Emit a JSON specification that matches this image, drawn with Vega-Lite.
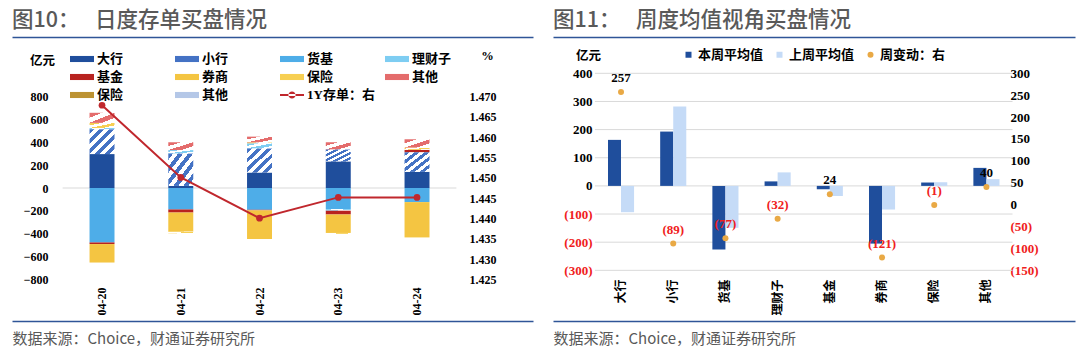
{
  "$schema": "https://vega.github.io/schema/vega-lite/v6.json",
  "background": "white",
  "padding": {"left": 12, "top": 9, "right": 4, "bottom": 0},
  "spacing": 20,
  "resolve": {"scale": {"color": "independent"}, "legend": {"color": "independent"}},
  "config": {
    "view": {"stroke": null},
    "axis": {"labelFont": "Liberation Serif", "labelFontWeight": "bold", "labelColor": "#000000", "labelFontSize": 12, "titleFont": "Noto Sans CJK SC", "titleFontWeight": "bold", "titleColor": "#000000", "titleFontSize": 12.5}
  },
  "hconcat": [
    {
      "width": 521,
      "height": 284,
      "title": {"text": "图10：　 日度存单买盘情况", "anchor": "start", "font": "Noto Sans CJK SC", "fontSize": 21.5, "fontWeight": 500, "color": "#595959", "offset": 6},
      "resolve": {"scale": {"y": "independent"}, "axis": {"x": "independent", "y": "independent"}},
      "layer": [
        {
          "data": {"values": [{"v": 0}]},
          "mark": {"type": "rule", "color": "#D9D9D9", "strokeWidth": 1},
          "encoding": {
            "x": {"datum": "04-20", "type": "nominal", "bandPosition": 0,
              "scale": {"domain": ["04-20", "04-21", "04-22", "04-23", "04-24"], "paddingInner": 0, "paddingOuter": 0.808, "align": 0.398},
              "axis": {"orient": "top", "labels": false, "ticks": false, "grid": false, "title": null, "domainColor": "#2F5597", "domainWidth": 1.5}},
            "x2": {"datum": "04-24", "bandPosition": 1},
            "y": {"field": "v", "type": "quantitative", "scale": {"domain": [-1160, 1317], "nice": false, "zero": false}, "axis": null}
          }
        },
        {
          "data": {"values": [
            {"date": "04-20", "type": "大行", "ord": 1, "value": 296},
            {"date": "04-20", "type": "小行", "ord": 2, "value": 217},
            {"date": "04-20", "type": "理财子", "ord": 4, "value": 10},
            {"date": "04-20", "type": "保险", "ord": 7, "value": 45},
            {"date": "04-20", "type": "其他", "ord": 8, "value": 88},
            {"date": "04-20", "type": "货基", "ord": 3, "value": -475},
            {"date": "04-20", "type": "基金", "ord": 5, "value": -14},
            {"date": "04-20", "type": "券商", "ord": 6, "value": -161},
            {"date": "04-21", "type": "大行", "ord": 1, "value": 18},
            {"date": "04-21", "type": "小行", "ord": 2, "value": 284},
            {"date": "04-21", "type": "理财子", "ord": 4, "value": 29},
            {"date": "04-21", "type": "其他", "ord": 8, "value": 68},
            {"date": "04-21", "type": "货基", "ord": 3, "value": -187},
            {"date": "04-21", "type": "基金", "ord": 5, "value": -27},
            {"date": "04-21", "type": "券商", "ord": 6, "value": -167},
            {"date": "04-21", "type": "保险", "ord": 7, "value": -14},
            {"date": "04-22", "type": "大行", "ord": 1, "value": 135},
            {"date": "04-22", "type": "小行", "ord": 2, "value": 211},
            {"date": "04-22", "type": "理财子", "ord": 4, "value": 44},
            {"date": "04-22", "type": "保险", "ord": 7, "value": 8},
            {"date": "04-22", "type": "其他", "ord": 8, "value": 50},
            {"date": "04-22", "type": "货基", "ord": 3, "value": -190},
            {"date": "04-22", "type": "基金", "ord": 5, "value": -5},
            {"date": "04-22", "type": "券商", "ord": 6, "value": -250},
            {"date": "04-23", "type": "大行", "ord": 1, "value": 232},
            {"date": "04-23", "type": "小行", "ord": 2, "value": 105},
            {"date": "04-23", "type": "其他", "ord": 8, "value": 62},
            {"date": "04-23", "type": "货基", "ord": 3, "value": -184},
            {"date": "04-23", "type": "理财子", "ord": 4, "value": -12},
            {"date": "04-23", "type": "基金", "ord": 5, "value": -35},
            {"date": "04-23", "type": "券商", "ord": 6, "value": -161},
            {"date": "04-23", "type": "保险", "ord": 7, "value": -8},
            {"date": "04-24", "type": "大行", "ord": 1, "value": 141},
            {"date": "04-24", "type": "小行", "ord": 2, "value": 170},
            {"date": "04-24", "type": "基金", "ord": 5, "value": 22},
            {"date": "04-24", "type": "保险", "ord": 7, "value": 20},
            {"date": "04-24", "type": "其他", "ord": 8, "value": 72},
            {"date": "04-24", "type": "货基", "ord": 3, "value": -123},
            {"date": "04-24", "type": "券商", "ord": 6, "value": -308}
          ]},
          "transform": [{"stack": "value", "groupby": ["date"], "sort": [{"field": "ord", "order": "ascending"}], "as": ["v0", "v1"], "offset": "zero"}],
          "encoding": {
            "x": {"field": "date", "type": "nominal",
              "scale": {"domain": ["04-20", "04-21", "04-22", "04-23", "04-24"], "paddingInner": 0, "paddingOuter": 0.808, "align": 0.398},
              "axis": {"orient": "bottom", "labelAngle": -90, "labelPadding": -34, "ticks": false, "tickSize": 0, "grid": false, "domainColor": "#2F5597", "domainWidth": 1.5, "labelFontSize": 12,
                "title": "数据来源：Choice，财通证券研究所", "titleX": 0, "titleY": 17, "titleAlign": "left", "titleAnchor": "start", "titleBaseline": "middle", "titleFont": "Noto Sans CJK SC", "titleFontSize": 15, "titleFontWeight": "normal", "titleColor": "#595959"}},
            "y": {"field": "v1", "type": "quantitative",
              "scale": {"domain": [-1160, 1317], "nice": false, "zero": false},
              "axis": {"orient": "left", "offset": -40, "values": [-800, -600, -400, -200, 0, 200, 400, 600, 800], "domain": false, "ticks": false, "grid": false, "labelPadding": 4,
                "title": "亿元", "titleAngle": 0, "titleX": -10, "titleY": 23, "titleAlign": "center", "titleBaseline": "middle"}},
            "y2": {"field": "v0"}
          },
          "layer": [
            {
              "transform": [{"filter": {"field": "type", "oneOf": ["大行", "货基", "基金", "券商"]}}],
              "mark": {"type": "bar", "width": {"band": 0.317}},
              "encoding": {
                "color": {"field": "type", "type": "nominal",
                  "scale": {
                    "domain": ["大行", "基金", "保险_s", "小行", "券商", "其他_s", "货基", "保险", "1Y存单：右", "理财子", "其他"],
                    "range": ["#1F4E9C", "#B8231F", "#BC9232", "#4472C4", "#F4C542", "#B4C7E7", "#4EADE8", "#F7CF52", "#C0272D", "#7ECDF2", "#E46C6C"]},
                  "legend": {"orient": "none", "legendX": 58, "legendY": 14, "columns": 4, "gridAlign": "all", "columnPadding": 10, "rowPadding": 3, "title": null,
                    "symbolSize": 256, "symbolStrokeWidth": 0, "labelOffset": 11, "labelFont": "Liberation Serif, Noto Sans CJK SC", "labelFontSize": 13, "labelFontWeight": "bold", "labelColor": "#000000",
                    "labelExpr": "replace(datum.label, '_s', '')",
                    "encode": {"symbols": {"update": {
                      "shape": {"signal": "datum.value === '1Y存单：右' ? 'M-1,-0.12h3v0.24h-3z M0.05,0 a0.45,0.45 0 1,0 0.9,0 a0.45,0.45 0 1,0 -0.9,0' : 'M-1,-0.38h3v0.76h-3z'"},
                      "fill": [
                        {"test": "datum.value === '大行'", "value": "#1F4E9C"},
                        {"test": "datum.value === '小行'", "value": {"gradient": "linear", "x1": 0, "y1": 0, "x2": 1, "y2": 1, "stops": [
                          {"offset": 0, "color": "#4472C4"}, {"offset": 0.125, "color": "#4472C4"}, {"offset": 0.125, "color": "#FFFFFF"}, {"offset": 0.25, "color": "#FFFFFF"},
                          {"offset": 0.25, "color": "#4472C4"}, {"offset": 0.375, "color": "#4472C4"}, {"offset": 0.375, "color": "#FFFFFF"}, {"offset": 0.5, "color": "#FFFFFF"},
                          {"offset": 0.5, "color": "#4472C4"}, {"offset": 0.625, "color": "#4472C4"}, {"offset": 0.625, "color": "#FFFFFF"}, {"offset": 0.75, "color": "#FFFFFF"},
                          {"offset": 0.75, "color": "#4472C4"}, {"offset": 0.875, "color": "#4472C4"}, {"offset": 0.875, "color": "#FFFFFF"}, {"offset": 1, "color": "#FFFFFF"}]}},
                        {"test": "datum.value === '货基'", "value": "#4EADE8"},
                        {"test": "datum.value === '理财子'", "value": {"gradient": "linear", "x1": 0, "y1": 0, "x2": 1, "y2": 1, "stops": [
                          {"offset": 0, "color": "#7ECDF2"}, {"offset": 0.125, "color": "#7ECDF2"}, {"offset": 0.125, "color": "#FFFFFF"}, {"offset": 0.25, "color": "#FFFFFF"},
                          {"offset": 0.25, "color": "#7ECDF2"}, {"offset": 0.375, "color": "#7ECDF2"}, {"offset": 0.375, "color": "#FFFFFF"}, {"offset": 0.5, "color": "#FFFFFF"},
                          {"offset": 0.5, "color": "#7ECDF2"}, {"offset": 0.625, "color": "#7ECDF2"}, {"offset": 0.625, "color": "#FFFFFF"}, {"offset": 0.75, "color": "#FFFFFF"},
                          {"offset": 0.75, "color": "#7ECDF2"}, {"offset": 0.875, "color": "#7ECDF2"}, {"offset": 0.875, "color": "#FFFFFF"}, {"offset": 1, "color": "#FFFFFF"}]}},
                        {"test": "datum.value === '基金'", "value": "#B8231F"},
                        {"test": "datum.value === '券商'", "value": "#F4C542"},
                        {"test": "datum.value === '保险'", "value": {"gradient": "linear", "x1": 0, "y1": 0, "x2": 1, "y2": 1, "stops": [
                          {"offset": 0, "color": "#F7CF52"}, {"offset": 0.125, "color": "#F7CF52"}, {"offset": 0.125, "color": "#FFFFFF"}, {"offset": 0.25, "color": "#FFFFFF"},
                          {"offset": 0.25, "color": "#F7CF52"}, {"offset": 0.375, "color": "#F7CF52"}, {"offset": 0.375, "color": "#FFFFFF"}, {"offset": 0.5, "color": "#FFFFFF"},
                          {"offset": 0.5, "color": "#F7CF52"}, {"offset": 0.625, "color": "#F7CF52"}, {"offset": 0.625, "color": "#FFFFFF"}, {"offset": 0.75, "color": "#FFFFFF"},
                          {"offset": 0.75, "color": "#F7CF52"}, {"offset": 0.875, "color": "#F7CF52"}, {"offset": 0.875, "color": "#FFFFFF"}, {"offset": 1, "color": "#FFFFFF"}]}},
                        {"test": "datum.value === '其他'", "value": {"gradient": "linear", "x1": 0, "y1": 0, "x2": 1, "y2": 1, "stops": [
                          {"offset": 0, "color": "#E46C6C"}, {"offset": 0.125, "color": "#E46C6C"}, {"offset": 0.125, "color": "#FFFFFF"}, {"offset": 0.25, "color": "#FFFFFF"},
                          {"offset": 0.25, "color": "#E46C6C"}, {"offset": 0.375, "color": "#E46C6C"}, {"offset": 0.375, "color": "#FFFFFF"}, {"offset": 0.5, "color": "#FFFFFF"},
                          {"offset": 0.5, "color": "#E46C6C"}, {"offset": 0.625, "color": "#E46C6C"}, {"offset": 0.625, "color": "#FFFFFF"}, {"offset": 0.75, "color": "#FFFFFF"},
                          {"offset": 0.75, "color": "#E46C6C"}, {"offset": 0.875, "color": "#E46C6C"}, {"offset": 0.875, "color": "#FFFFFF"}, {"offset": 1, "color": "#FFFFFF"}]}},
                        {"test": "datum.value === '保险_s'", "value": "#BC9232"},
                        {"test": "datum.value === '其他_s'", "value": "#B4C7E7"},
                        {"value": "#C0272D"}
                      ]
                    }}}}
                }
              }
            },
            {
              "transform": [{"filter": "datum.type === '小行'"}],
              "mark": {"type": "bar", "width": {"band": 0.317}, "fill": {"gradient": "linear", "x1": 0, "y1": 0, "x2": 1, "y2": 1, "stops": [
                {"offset": 0, "color": "#4472C4"}, {"offset": 0.1, "color": "#4472C4"}, {"offset": 0.1, "color": "#FFFFFF"}, {"offset": 0.2, "color": "#FFFFFF"},
                {"offset": 0.2, "color": "#4472C4"}, {"offset": 0.3, "color": "#4472C4"}, {"offset": 0.3, "color": "#FFFFFF"}, {"offset": 0.4, "color": "#FFFFFF"},
                {"offset": 0.4, "color": "#4472C4"}, {"offset": 0.5, "color": "#4472C4"}, {"offset": 0.5, "color": "#FFFFFF"}, {"offset": 0.6, "color": "#FFFFFF"},
                {"offset": 0.6, "color": "#4472C4"}, {"offset": 0.7, "color": "#4472C4"}, {"offset": 0.7, "color": "#FFFFFF"}, {"offset": 0.8, "color": "#FFFFFF"},
                {"offset": 0.8, "color": "#4472C4"}, {"offset": 0.9, "color": "#4472C4"}, {"offset": 0.9, "color": "#FFFFFF"}, {"offset": 1, "color": "#FFFFFF"}]}}
            },
            {
              "transform": [{"filter": "datum.type === '理财子'"}],
              "mark": {"type": "bar", "width": {"band": 0.317}, "fill": {"gradient": "linear", "x1": 0, "y1": 0, "x2": 1, "y2": 1, "stops": [
                {"offset": 0, "color": "#7ECDF2"}, {"offset": 0.25, "color": "#7ECDF2"}, {"offset": 0.25, "color": "#FFFFFF"}, {"offset": 0.5, "color": "#FFFFFF"},
                {"offset": 0.5, "color": "#7ECDF2"}, {"offset": 0.75, "color": "#7ECDF2"}, {"offset": 0.75, "color": "#FFFFFF"}, {"offset": 1, "color": "#FFFFFF"}]}}
            },
            {
              "transform": [{"filter": "datum.type === '保险'"}],
              "mark": {"type": "bar", "width": {"band": 0.317}, "fill": {"gradient": "linear", "x1": 0, "y1": 0, "x2": 1, "y2": 1, "stops": [
                {"offset": 0, "color": "#F7CF52"}, {"offset": 0.25, "color": "#F7CF52"}, {"offset": 0.25, "color": "#FFFFFF"}, {"offset": 0.5, "color": "#FFFFFF"},
                {"offset": 0.5, "color": "#F7CF52"}, {"offset": 0.75, "color": "#F7CF52"}, {"offset": 0.75, "color": "#FFFFFF"}, {"offset": 1, "color": "#FFFFFF"}]}}
            },
            {
              "transform": [{"filter": "datum.type === '其他'"}],
              "mark": {"type": "bar", "width": {"band": 0.317}, "fill": {"gradient": "linear", "x1": 0, "y1": 0, "x2": 1, "y2": 1, "stops": [
                {"offset": 0, "color": "#E46C6C"}, {"offset": 0.25, "color": "#E46C6C"}, {"offset": 0.25, "color": "#FFFFFF"}, {"offset": 0.5, "color": "#FFFFFF"},
                {"offset": 0.5, "color": "#E46C6C"}, {"offset": 0.75, "color": "#E46C6C"}, {"offset": 0.75, "color": "#FFFFFF"}, {"offset": 1, "color": "#FFFFFF"}]}}
            }
          ]
        },
        {
          "data": {"values": [
            {"date": "04-20", "rate": 1.4678},
            {"date": "04-21", "rate": 1.4501},
            {"date": "04-22", "rate": 1.4401},
            {"date": "04-23", "rate": 1.4452},
            {"date": "04-24", "rate": 1.4452}
          ]},
          "mark": {"type": "line", "color": "#C0272D", "strokeWidth": 2, "point": {"filled": true, "size": 45, "color": "#C0272D"}},
          "encoding": {
            "x": {"field": "date", "type": "nominal",
              "scale": {"domain": ["04-20", "04-21", "04-22", "04-23", "04-24"], "paddingInner": 0, "paddingOuter": 0.808, "align": 0.398},
              "axis": null},
            "y": {"field": "rate", "type": "quantitative",
              "scale": {"domain": [1.41487, 1.48455], "nice": false, "zero": false},
              "axis": {"orient": "right", "offset": -68, "values": [1.425, 1.43, 1.435, 1.44, 1.445, 1.45, 1.455, 1.46, 1.465, 1.47], "format": ".3f", "domain": false, "ticks": false, "grid": false, "labelPadding": 4,
                "title": "%", "titleAngle": 0, "titleX": 22, "titleY": 18, "titleAlign": "center", "titleBaseline": "middle", "titleFont": "Liberation Serif"}}
          }
        }
      ]
    },
    {
      "width": 522,
      "height": 284,
      "title": {"text": "图11：　 周度均值视角买盘情况", "anchor": "start", "font": "Noto Sans CJK SC", "fontSize": 21.5, "fontWeight": 500, "color": "#595959", "offset": 6},
      "resolve": {"scale": {"y": "independent"}, "axis": {"x": "independent", "y": "independent"}},
      "layer": [
        {
          "data": {"values": [{"g": 400}, {"g": 300}, {"g": 200}, {"g": 100}, {"g": 0}, {"g": -100}, {"g": -200}, {"g": -300}]},
          "mark": {"type": "rule", "color": "#D9D9D9", "strokeWidth": 1},
          "encoding": {
            "x": {"datum": "大行", "type": "nominal", "bandPosition": 0,
              "scale": {"domain": ["大行", "小行", "货基", "理财子", "基金", "券商", "保险", "其他"], "paddingInner": 0, "paddingOuter": 1.22, "align": 0.4016},
              "axis": {"orient": "top", "labels": false, "ticks": false, "grid": false, "title": null, "domainColor": "#2F5597", "domainWidth": 1.5}},
            "x2": {"datum": "其他", "bandPosition": 1},
            "y": {"field": "g", "type": "quantitative", "scale": {"domain": [-480, 529], "nice": false, "zero": false}, "axis": null}
          }
        },
        {
          "data": {"values": [
            {"cat": "大行", "series": "本周平均值", "value": 163.5},
            {"cat": "大行", "series": "上周平均值", "value": -93.5},
            {"cat": "小行", "series": "本周平均值", "value": 193},
            {"cat": "小行", "series": "上周平均值", "value": 282},
            {"cat": "货基", "series": "本周平均值", "value": -226},
            {"cat": "货基", "series": "上周平均值", "value": -149},
            {"cat": "理财子", "series": "本周平均值", "value": 16},
            {"cat": "理财子", "series": "上周平均值", "value": 48},
            {"cat": "基金", "series": "本周平均值", "value": -12},
            {"cat": "基金", "series": "上周平均值", "value": -36},
            {"cat": "券商", "series": "本周平均值", "value": -205},
            {"cat": "券商", "series": "上周平均值", "value": -84},
            {"cat": "保险", "series": "本周平均值", "value": 12},
            {"cat": "保险", "series": "上周平均值", "value": 13},
            {"cat": "其他", "series": "本周平均值", "value": 64},
            {"cat": "其他", "series": "上周平均值", "value": 24}
          ]},
          "mark": {"type": "bar"},
          "encoding": {
            "x": {"field": "cat", "type": "nominal",
              "scale": {"domain": ["大行", "小行", "货基", "理财子", "基金", "券商", "保险", "其他"], "paddingInner": 0, "paddingOuter": 1.22, "align": 0.4016},
              "axis": {"orient": "bottom", "labelAngle": -90, "labelPadding": -42, "ticks": false, "tickSize": 0, "grid": false, "domainColor": "#2F5597", "domainWidth": 1.5,
                "labelFont": "Noto Sans CJK SC", "labelFontSize": 12, "labelFontWeight": "bold",
                "title": "数据来源：Choice，财通证券研究所", "titleX": 0, "titleY": 17, "titleAlign": "left", "titleAnchor": "start", "titleBaseline": "middle", "titleFont": "Noto Sans CJK SC", "titleFontSize": 15, "titleFontWeight": "normal", "titleColor": "#595959"}},
            "xOffset": {"field": "series", "type": "nominal", "scale": {"domain": ["本周平均值", "上周平均值"], "paddingInner": 0, "paddingOuter": 1.083}},
            "y": {"field": "value", "type": "quantitative", "stack": null,
              "scale": {"domain": [-480, 529], "nice": false, "zero": false},
              "axis": {"orient": "left", "offset": -43, "values": [-300, -200, -100, 0, 100, 200, 300, 400], "domain": false, "ticks": false, "grid": false, "labelPadding": 4, "labelFontSize": 13,
                "labelExpr": "datum.value < 0 ? '(' + (-datum.value) + ')' : '' + datum.value",
                "labelColor": {"condition": {"test": "datum.value < 0", "value": "#F02020"}, "value": "#000000"},
                "title": "亿元", "titleAngle": 0, "titleX": -8, "titleY": 18, "titleAlign": "center", "titleBaseline": "middle"}},
            "color": {"field": "series", "type": "nominal",
              "scale": {"domain": ["本周平均值", "上周平均值", "周变动：右"], "range": ["#1F4E9C", "#C5DBF7", "#E9A945"]},
              "legend": {"orient": "none", "direction": "horizontal", "legendX": 129, "legendY": 11, "title": null, "columnPadding": 9, "gridAlign": "all",
                "symbolSize": 36, "symbolStrokeWidth": 0, "labelOffset": 3, "labelFont": "Noto Sans CJK SC", "labelFontSize": 13, "labelFontWeight": "bold", "labelColor": "#000000",
                "encode": {"symbols": {"update": {"shape": {"signal": "datum.value === '周变动：右' ? 'circle' : 'square'"}}}}}}
          }
        },
        {
          "data": {"values": [
            {"cat": "大行", "change": 257, "label": "257"},
            {"cat": "小行", "change": -89, "label": "(89)"},
            {"cat": "货基", "change": -77, "label": "(77)"},
            {"cat": "理财子", "change": -32, "label": "(32)"},
            {"cat": "基金", "change": 24, "label": "24"},
            {"cat": "券商", "change": -121, "label": "(121)"},
            {"cat": "保险", "change": -1, "label": "(1)"},
            {"cat": "其他", "change": 40, "label": "40"}
          ]},
          "encoding": {
            "x": {"field": "cat", "type": "nominal",
              "scale": {"domain": ["大行", "小行", "货基", "理财子", "基金", "券商", "保险", "其他"], "paddingInner": 0, "paddingOuter": 1.22, "align": 0.4016},
              "axis": null},
            "y": {"field": "change", "type": "quantitative",
              "scale": {"domain": [-265.8, 382.9], "nice": false, "zero": false},
              "axis": {"orient": "right", "offset": -69, "values": [-150, -100, -50, 0, 50, 100, 150, 200, 250, 300], "domain": false, "ticks": false, "grid": false, "labelPadding": 4, "labelFontSize": 13,
                "labelExpr": "datum.value < 0 ? '(' + (-datum.value) + ')' : '' + datum.value",
                "labelColor": {"condition": {"test": "datum.value < 0", "value": "#F02020"}, "value": "#000000"},
                "title": null}}
          },
          "layer": [
            {"mark": {"type": "point", "filled": true, "size": 36, "color": "#E9A945", "opacity": 1}},
            {"mark": {"type": "text", "dy": -14, "font": "Liberation Serif", "fontWeight": "bold", "fontSize": 13},
              "encoding": {
                "text": {"field": "label", "type": "nominal"},
                "color": {"condition": {"test": "datum.change < 0", "value": "#F02020"}, "value": "#000000"}
              }}
          ]
        }
      ]
    }
  ]
}
